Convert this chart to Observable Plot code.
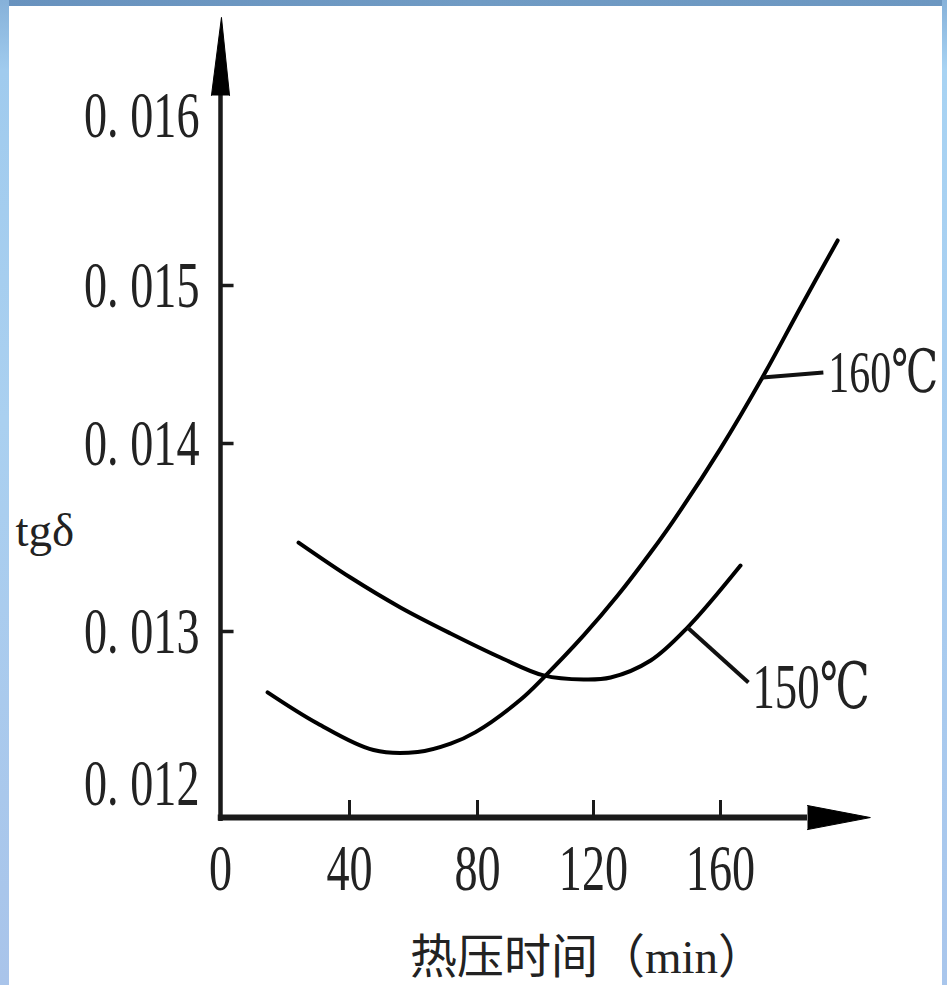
<!DOCTYPE html>
<html><head><meta charset="utf-8">
<script src="https://cdn.jsdelivr.net/npm/d3@7"></script>
<script src="https://cdn.jsdelivr.net/npm/@observablehq/plot@0.6"></script>
<style>
html,body{margin:0;padding:0;background:#fff;overflow:hidden;}
#wrap{position:relative;width:947px;height:985px;}
.edge{position:absolute;pointer-events:none;}
#top{left:0;top:0;width:947px;height:6px;background:linear-gradient(90deg,#6892be,#709bc4 50%,#6c97c1);}
#left{left:0;top:0;width:9px;height:985px;background:linear-gradient(180deg,#86b1d9 0px,#a0cbee 70px,#aad0f0 420px,#a9c4ea 985px);}
#right{right:0;top:0;width:5px;height:985px;background:linear-gradient(180deg,#86b1d9 0px,#a8d3f3 70px,#a9c6ec 985px);}
</style></head><body><div id="wrap"></div>
<script>
// ---- data ----
const xTicks = [0, 40, 80, 120, 160];
const xTickLabels = ["0", "40", "80", "120", "160"];
const yTicks = [0.012, 0.013, 0.014, 0.015, 0.016];
const yTickLabels = ["0. 012", "0. 013", "0. 014", "0. 015", "0. 016"];
const yTickMarks = [0.013, 0.014, 0.015];
const xTickMarks = [40, 80, 120, 160];

const seriesNames = ["160℃", "150℃"];
const time160 = [14.6, 30.1, 47.5, 61.3, 71.6, 79.4, 94.8, 102.8, 116.6, 127.6, 138.0, 145.2, 160.0, 173.2, 185.2, 196.9];
const tg160   = [0.01260, 0.012395, 0.012220, 0.012207, 0.012262, 0.012338, 0.012551, 0.012697, 0.012974, 0.013191, 0.013420, 0.013590, 0.013973, 0.014418, 0.014861, 0.015265];
const time150 = [24.2, 40.3, 55.9, 71.6, 87.9, 102.8, 116.6, 125.4, 138.0, 149.6, 166.3];
const tg150   = [0.013473, 0.013287, 0.013128, 0.012987, 0.012829, 0.012711, 0.012684, 0.012697, 0.012809, 0.013021, 0.013351];
// label leader: from a curve point to label anchor
const leaderFromIndex = [13, 9];
const labelTime = [192.4, 168.8];
const labelTg = [0.014449, 0.012664];

// axis geometry (data units)
const xAxisTg = 0.011776, yAxisTop = 0.016118, yArrowTip = 0.016577;
const xAxisEnd = 187.4, xArrowTip = 207.2;
const xArrowHalf = 0.0000790, yArrowHalf = 2.8;
const xTickTop = 0.011888, yTickLen = 4.2;

const s160 = time160.map((t, i) => ({time: t, tg: tg160[i]}));
const s150 = time150.map((t, i) => ({time: t, tg: tg150[i]}));
const series = [s160, s150];
const leaders = seriesNames.map((n, i) => ({
  name: n,
  x1: series[i][leaderFromIndex[i]].time, y1: series[i][leaderFromIndex[i]].tg,
  x2: labelTime[i], y2: labelTg[i]
}));

const serif = "Liberation Serif, Noto Sans CJK SC, serif";
const serifDeg = "Liberation Serif, DejaVu Serif, serif";

const plot = Plot.plot({
  width: 947, height: 985,
  marginTop: 0, marginRight: 0, marginBottom: 0, marginLeft: 0,
  style: {background: "white"},
  x: {type: "linear", domain: xTicks, range: [220, 349, 477, 593, 720], axis: null},
  y: {type: "linear", domain: yTicks, range: [783, 631, 443, 285, 115], axis: null},
  marks: [
    // axes
    Plot.ruleX([0], {y1: xAxisTg - 0.000026, y2: yAxisTop, stroke: "#1a1a1a", strokeWidth: 4.5}),
    Plot.line([{time: -yArrowHalf, tg: yAxisTop}, {time: 0.3, tg: yArrowTip}, {time: yArrowHalf, tg: yAxisTop}],
      {x: "time", y: "tg", fill: "black", stroke: "black", strokeWidth: 1}),
    Plot.ruleY([xAxisTg], {x1: -0.7, x2: xAxisEnd, stroke: "#1a1a1a", strokeWidth: 6}),
    Plot.line([{time: xAxisEnd, tg: xAxisTg + xArrowHalf}, {time: xArrowTip, tg: xAxisTg}, {time: xAxisEnd, tg: xAxisTg - xArrowHalf}],
      {x: "time", y: "tg", fill: "black", stroke: "black", strokeWidth: 1}),
    Plot.ruleY(yTickMarks, {x1: 0, x2: yTickLen, stroke: "#1a1a1a", strokeWidth: 3.5}),
    Plot.ruleX(xTickMarks, {y1: xAxisTg, y2: xTickTop, stroke: "#1a1a1a", strokeWidth: 3}),
    // tick labels
    Plot.text(yTicks, {x: () => 0, y: d => d, text: (d, i) => yTickLabels[i], textAnchor: "end", dx: -21,
      fontSize: 66, fontFamily: serif, fill: "#222"}),
    Plot.text(xTicks, {x: d => d, y: () => xAxisTg, text: (d, i) => xTickLabels[i], dy: 51,
      fontSize: 66, fontFamily: serif, fill: "#222"}),
    // curves
    Plot.line(s160, {x: "time", y: "tg", stroke: "black", strokeWidth: 4, curve: "catmull-rom", strokeLinecap: "round"}),
    Plot.line(s150, {x: "time", y: "tg", stroke: "black", strokeWidth: 4, curve: "catmull-rom", strokeLinecap: "round"}),
    // leaders & labels
    Plot.link(leaders, {x1: "x1", y1: "y1", x2: "x2", y2: "y2", stroke: "#111", strokeWidth: 4}),
    Plot.text([leaders[0]], {x: "x2", y: "y2", text: "name", textAnchor: "start", dx: 5, dy: 0,
      fontSize: 60, fontFamily: serifDeg, fill: "#222"}),
    Plot.text([leaders[1]], {x: "x2", y: "y2", text: "name", textAnchor: "start", dx: 4, dy: 5,
      fontSize: 64, fontFamily: serifDeg, fill: "#222"}),
    // axis titles
    Plot.text(["tgδ"], {frameAnchor: "top-left", dx: 15, dy: 530, textAnchor: "start", lineAnchor: "middle",
      fontSize: 47, fontFamily: serif, fill: "#222"}),
    Plot.text(["热压时间（min）"], {frameAnchor: "top-left", dx: 587, dy: 957, textAnchor: "middle", lineAnchor: "middle",
      fontSize: 47, fontFamily: serif, fill: "#222"})
  ]
});

// condensed numeric typeface as in the original
plot.querySelectorAll("text").forEach(t => {
  if (/^[0-9. ℃]+$/.test(t.textContent)) {
    const tr = t.getAttribute("transform");
    if (tr) t.setAttribute("transform", tr + " scale(0.7,1)");
    else {
      const x = +t.getAttribute("x") || 0, y = +t.getAttribute("y") || 0;
      t.removeAttribute("x"); t.removeAttribute("y");
      t.setAttribute("transform", `translate(${x},${y}) scale(0.7,1)`);
    }
  }
});

const wrap = document.getElementById("wrap");
wrap.appendChild(plot);
["top", "left", "right"].forEach(id => {
  const d = document.createElement("div");
  d.className = "edge"; d.id = id; wrap.appendChild(d);
});
</script>
</body></html>
